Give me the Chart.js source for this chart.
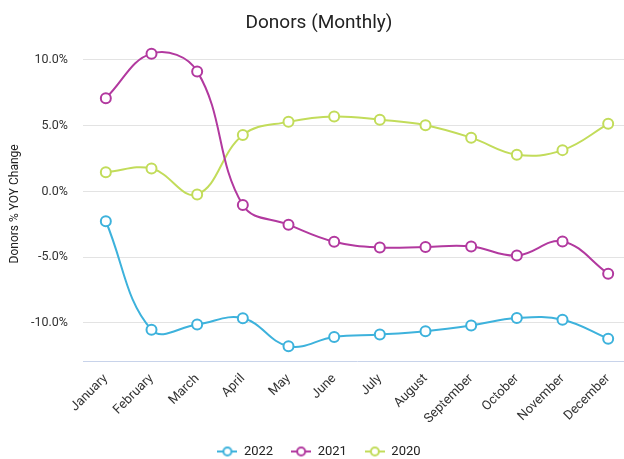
<!DOCTYPE html>
<html lang="en">
  <head>
    <meta charset="UTF-8" />
    <title>Donors (Monthly)</title>
    <script src="https://cdn.jsdelivr.net/npm/chart.js@4.4.1/dist/chart.umd.min.js"></script>
    <style>
      html, body { margin: 0; padding: 0; background: #fff; overflow: hidden; }
      /* the plot runs a little past the right edge, like the original */
      #wrap { width: 624px; height: 459px; overflow: hidden; }
    </style>
  </head>
  <body>
    <div id="wrap"><canvas id="donorChart" width="638" height="459"></canvas></div>
    <script>
      // data
      const months = ['January', 'February', 'March', 'April', 'May', 'June', 'July', 'August', 'September', 'October', 'November', 'December'];
      const years = ['2022', '2021', '2020'];
      const donors2022 = [-2.27, -10.53, -10.12, -9.64, -11.78, -11.07, -10.89, -10.63, -10.2, -9.63, -9.76, -11.2];
      const donors2021 = [7.09, 10.48, 9.13, -1.04, -2.53, -3.83, -4.27, -4.22, -4.19, -4.88, -3.81, -6.26];
      const donors2020 = [1.46, 1.74, -0.23, 4.29, 5.29, 5.7, 5.45, 5.04, 4.09, 2.79, 3.14, 5.14];
      const yTicks = [-10, -5, 0, 5, 10];
      const colors = ['#3db2dc', '#b2399f', '#c2dc5a'];

      // little line + ring icon for the legend
      function legendIcon(color) {
        const c = document.createElement('canvas');
        c.width = 20;
        c.height = 12;
        const g = c.getContext('2d');
        g.strokeStyle = color;
        g.lineWidth = 2;
        g.beginPath();
        g.moveTo(0, 6);
        g.lineTo(20, 6);
        g.stroke();
        g.beginPath();
        g.arc(10, 6, 4, 0, Math.PI * 2);
        g.fillStyle = '#fff';
        g.fill();
        g.stroke();
        return c;
      }

      const series = [donors2022, donors2021, donors2020];
      const datasets = series.map((vals, i) => ({
        label: years[i],
        data: vals,
        borderColor: colors[i],
        backgroundColor: '#fff',
        borderWidth: 2,
        pointRadius: 5,
        pointBorderWidth: 2,
        pointBackgroundColor: '#fff',
        pointBorderColor: colors[i],
        pointStyle: 'circle',
        legendStyle: legendIcon(colors[i]),
        tension: 0.4,
        fill: false
      }));

      const ctx = document.getElementById('donorChart').getContext('2d');
      new Chart(ctx, {
        type: 'line',
        data: { labels: months, datasets: datasets },
        options: {
          responsive: false,
          animation: false,
          layout: { padding: { left: 0, right: 0, top: 0, bottom: -9 } },
          plugins: {
            title: {
              display: true,
              text: 'Donors (Monthly)',
              color: '#222',
              font: { family: 'Roboto', size: 19, weight: 'normal' },
              padding: { top: 12, bottom: 12 }
            },
            legend: {
              position: 'bottom',
              labels: {
                usePointStyle: true,
                pointStyleWidth: 20,
                color: '#222',
                font: { family: 'Roboto', size: 13 },
                padding: 18,
                generateLabels: (chart) => chart.data.datasets.map((d, i) => ({
                  text: d.label,
                  pointStyle: d.legendStyle,
                  fillStyle: '#fff',
                  strokeStyle: d.borderColor,
                  lineWidth: 2,
                  fontColor: '#222',
                  datasetIndex: i
                }))
              }
            },
            tooltip: { enabled: false }
          },
          scales: {
            x: {
              offset: true,
              grid: { display: false },
              border: { display: true, color: '#c8d3ea', width: 1 },
              afterFit: (axis) => {
                axis.height = 66;
                axis.paddingLeft = 0;
                axis.paddingRight = 0;
              },
              ticks: {
                color: '#333',
                font: { family: 'Roboto', size: 13 },
                maxRotation: 45,
                minRotation: 45,
                padding: 2
              }
            },
            y: {
              min: -12.9,
              max: 11,
              afterBuildTicks: (axis) => { axis.ticks = yTicks.map((v) => ({ value: v })); },
              afterFit: (axis) => { axis.width = 83; },
              grid: { color: '#e3e3e3', drawTicks: false },
              border: { display: false },
              ticks: {
                color: '#333',
                font: { family: 'Roboto', size: 12.5 },
                padding: 15,
                callback: (v) => v.toFixed(1) + '%'
              },
              title: {
                display: true,
                text: 'Donors % YOY Change',
                color: '#222',
                font: { family: 'Roboto', size: 12 },
                padding: { top: 8, bottom: 0 }
              }
            }
          }
        }
      });
    </script>
  </body>
</html>
